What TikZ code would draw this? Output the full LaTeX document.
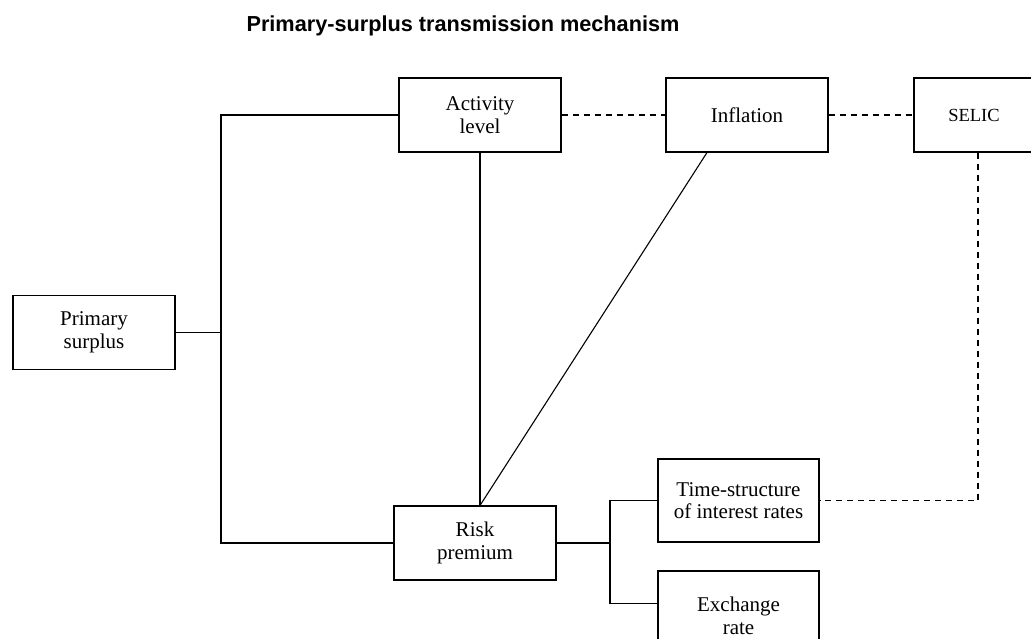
\documentclass[tikz,border=0pt]{standalone}
\usepackage{fontspec}
\setmainfont{Liberation Serif}
\newfontfamily\titlefont{Liberation Sans}
\usetikzlibrary{calc}
\begin{document}
\begin{tikzpicture}[x=1pt,y=-1pt,
  box/.style={draw,line width=1.1pt,minimum width=162pt,minimum height=74pt,align=center,inner sep=0pt,font=\fontsize{21}{22.5}\selectfont},
  ln/.style={line width=1.1pt},
  dsh/.style={line width=1.1pt,dash pattern=on 6pt off 5pt}]
\useasboundingbox (0,0) rectangle (1031,638);
\clip (0,0) rectangle (1031,638);
\node[font=\titlefont\bfseries\fontsize{21.7}{26}\selectfont,anchor=base] (T) at (463,31) {Primary-surplus transmission mechanism};
\node[box] (PS) at (94,332.5) {Primary\\surplus};
\node[box] (AL) at (480,115) {Activity\\level};
\node[box] (IN) at (747,115) {Inflation};
\node[box,minimum width=120pt,font=\fontsize{18.5}{20}\selectfont] (SE) at (974,115) {SELIC};
\node[box] (RP) at (475,543) {Risk\\premium};
\node[box,minimum width=161pt,minimum height=83pt] (TS) at (738.5,500.5) {Time-structure\\of interest rates};
\node[box,minimum width=161pt,minimum height=90pt] (ER) at (738.5,616) {Exchange\\rate};
\coordinate (spT) at (221,115);
\coordinate (spB) at (221,543);
\coordinate (br) at (610,543);
\coordinate (rt) at (AL.south |- RP.north);
\draw[ln] (AL.west) -- (spT) -- (spB) -- (RP.west);
\draw[ln] (PS.east) -- (PS.east -| spT);
\draw[ln] (AL.south) -- (rt);
\draw[ln] ($(IN.south)+(-40,0)$) -- (rt);
\draw[ln] (RP.east) -- (br);
\draw[ln] (TS.west) -| (br);
\draw[ln] ($(ER.north west)+(0,33)$) -| (br);
\draw[dsh] (AL.east) -- (IN.west);
\draw[dsh] (IN.east) -- (SE.west);
\draw[dsh] ($(SE.south)+(4,0)$) |- (TS.east);
\end{tikzpicture}
\end{document}
